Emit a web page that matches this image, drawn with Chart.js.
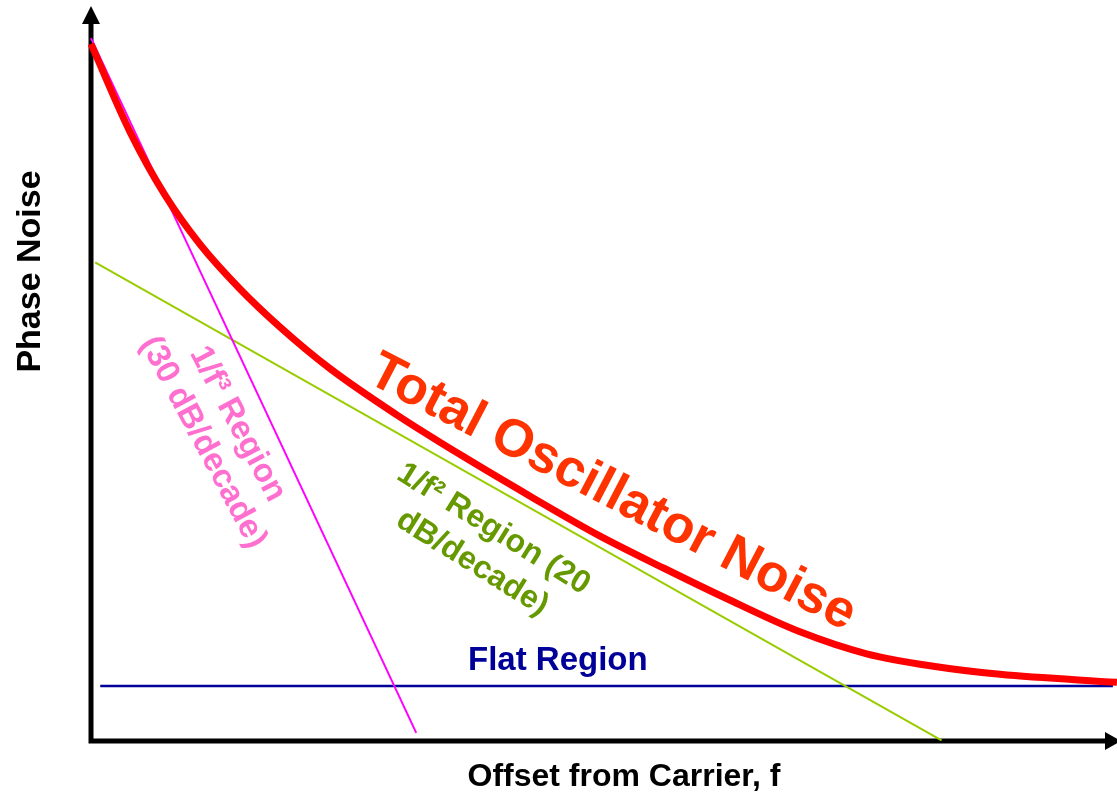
<!DOCTYPE html>
<html>
<head>
<meta charset="utf-8">
<script src="https://cdn.jsdelivr.net/npm/chart.js@4.4.1/dist/chart.umd.min.js"></script>
<style>
  html, body { margin: 0; padding: 0; background: #fff; }
  #wrap { width: 1117px; height: 796px; }
</style>
</head>
<body>
<div id="wrap"><canvas id="noise-chart" width="1117" height="796"></canvas></div>
<script>
// values (x = offset, y = phase noise, both 0..100 arbitrary units)
const totalX = [0, 3.8, 7.2, 10.6, 14.5, 18.4, 23.3, 29.8, 36.3, 42.8, 49.3, 55.8, 62.3, 69.1, 75.6, 82.1, 88.6, 100]
const totalY = [95.1, 83.1, 74.5, 67.8, 61.7, 56.5, 50.8, 44.5, 38.8, 33.4, 28.2, 23.6, 19.2, 14.9, 11.9, 10.2, 9.1, 8.0]
const f3X = [0, 31.7]
const f3Y = [95.9, 1.1]
const f2X = [0.4, 82.9]
const f2Y = [65.3, 0.1]
const flatX = [0.9, 99.6]
const flatY = [7.5, 7.5]

const xTitle = 'Offset from Carrier, f'
const yTitle = 'Phase Noise'
const totalLabel = ['Total Oscillator Noise']
const f3Label = ['1/f\u00b3 Region', '(30 dB/decade)']
const f2Label = ['1/f\u00b2 Region (20', 'dB/decade)']
const flatLabel = ['Flat Region']

function pts(xs, ys) {
    var out = []
    for (var i = 0; i < xs.length; i++) out.push({x: xs[i], y: ys[i]})
    return out
}

const FONT = '"Liberation Sans", Arial, sans-serif'

// axes with arrows + titles + rotated labels
const drawing = {
    id: 'drawing',
    beforeDatasetsDraw(chart) {
        const ctx = chart.ctx, a = chart.chartArea
        ctx.save()
        ctx.strokeStyle = '#000'
        ctx.fillStyle = '#000'
        ctx.lineWidth = 5
        ctx.beginPath()
        ctx.moveTo(a.left, a.bottom + 2.5)
        ctx.lineTo(a.left, a.top + 14)
        ctx.moveTo(a.left - 2.5, a.bottom)
        ctx.lineTo(a.right - 8, a.bottom)
        ctx.stroke()
        // arrow heads
        ctx.beginPath()
        ctx.moveTo(a.left, a.top - 2)
        ctx.lineTo(a.left - 9, a.top + 16)
        ctx.lineTo(a.left + 9, a.top + 16)
        ctx.closePath()
        ctx.fill()
        ctx.beginPath()
        ctx.moveTo(a.right + 4, a.bottom)
        ctx.lineTo(a.right - 12, a.bottom - 9)
        ctx.lineTo(a.right - 12, a.bottom + 9)
        ctx.closePath()
        ctx.fill()
        // titles
        ctx.font = 'bold 32px ' + FONT
        ctx.textAlign = 'center'
        ctx.textBaseline = 'middle'
        ctx.fillText(xTitle, (a.left + a.right) / 2 + 20, a.bottom + 36)
        ctx.font = 'bold 34px ' + FONT
        ctx.translate(a.left - 60, (a.top + a.bottom) / 2 - 103)
        ctx.rotate(-Math.PI / 2)
        ctx.fillText(yTitle, 0, 0)
        ctx.restore()
    },
    afterDatasetsDraw(chart) {
        const ctx = chart.ctx
        const xs = chart.scales.x, ys = chart.scales.y
        function label(lines, x, y, deg, size, lh, color) {
            ctx.save()
            ctx.translate(xs.getPixelForValue(x), ys.getPixelForValue(y))
            ctx.rotate(deg * Math.PI / 180)
            ctx.font = 'bold ' + size + 'px ' + FONT
            ctx.fillStyle = color
            ctx.textAlign = 'center'
            ctx.textBaseline = 'middle'
            var off = -(lines.length - 1) * lh / 2
            for (var i = 0; i < lines.length; i++) ctx.fillText(lines[i], 0, off + i * lh)
            ctx.restore()
        }
        label(totalLabel, 50.8, 33.8, 27.5, 53, 56, '#FF3300')
        label(f3Label, 12.6, 42.0, 62, 33, 39, '#FF6FCF')
        label(f2Label, 38.2, 26.6, 32, 32, 40, '#669900')
        label(flatLabel, 45.5, 10.9, 0, 33, 36, '#000099')
    }
}

const config = {
    type: 'scatter',
    data: {
        datasets: [
            { label: 'Total', data: pts(totalX, totalY), showLine: true, borderColor: '#FF0000',
              borderWidth: 7, pointRadius: 0, cubicInterpolationMode: 'monotone', clip: false },
            { label: '1/f3', data: pts(f3X, f3Y), showLine: true, borderColor: '#FF00FF',
              borderWidth: 2, pointRadius: 0, clip: false },
            { label: '1/f2', data: pts(f2X, f2Y), showLine: true, borderColor: '#99CC00',
              borderWidth: 2, pointRadius: 0, clip: false },
            { label: 'Flat', data: pts(flatX, flatY), showLine: true, borderColor: '#000099',
              borderWidth: 2.5, pointRadius: 0, clip: false }
        ]
    },
    options: {
        responsive: false,
        animation: false,
        layout: { padding: { left: 91, right: 0, top: 8, bottom: 55 } },
        plugins: { legend: { display: false }, tooltip: { enabled: false } },
        scales: {
            x: { type: 'linear', min: 0, max: 100, display: false },
            y: { type: 'linear', min: 0, max: 100, display: false }
        }
    },
    plugins: [drawing]
}

window.onload = function() {
    var ctx = document.getElementById('noise-chart').getContext('2d')
    window.noiseChart = new Chart(ctx, config)
}
</script>
</body>
</html>
